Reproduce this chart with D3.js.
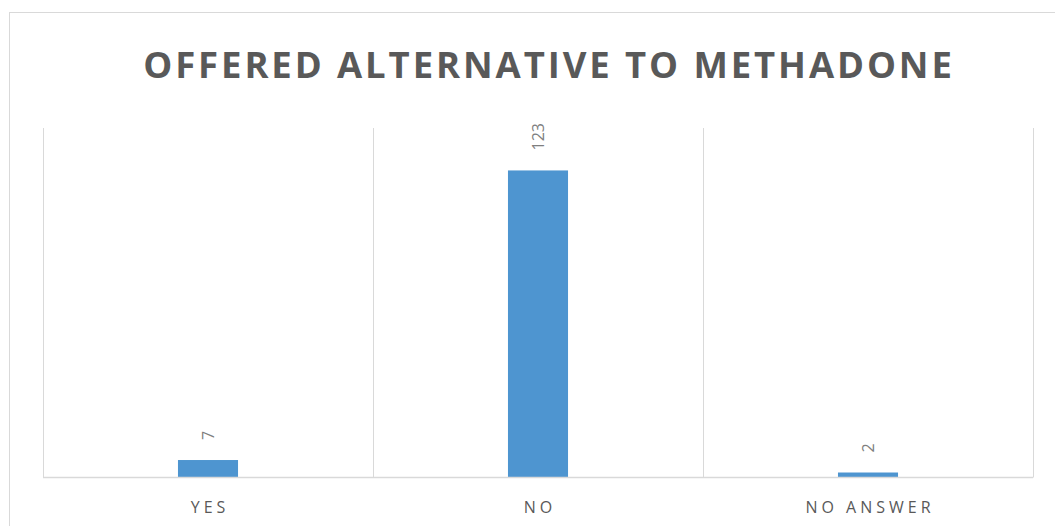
<!DOCTYPE html>
<html><head><meta charset="utf-8">
<script src="https://cdn.jsdelivr.net/npm/d3@7"></script>
<style>html,body{margin:0;padding:0;background:#fff;overflow:hidden}</style>
</head><body>
<svg id="chart" width="1055" height="526"></svg>
<script>
const categories = ["YES", "NO", "NO ANSWER"];
const values = [7, 123, 2];
const yMax = 140;
const title = "OFFERED ALTERNATIVE TO METHADONE";

(function () {
const svg = d3.select("#chart");
const pLeft = 43, pRight = 1033, pTop = 128, pBottom = 477.5;

svg.append("rect").attr("x", 9.5).attr("y", 12.5).attr("width", 1100).attr("height", 600)
  .attr("fill", "#fff").attr("stroke", "#d9d9d9").attr("stroke-width", 1);

svg.append("text").attr("x", 549).attr("y", 78).attr("text-anchor", "middle")
  .attr("font-family", "'Open Sans', sans-serif").attr("font-weight", 700)
  .attr("font-size", 36.5).attr("letter-spacing", 2.9).attr("fill", "#595959").text(title);

const x = d3.scaleBand().domain(categories).range([pLeft, pRight]).padding(0);
const y = d3.scaleLinear().domain([0, yMax]).range([pBottom, pTop]);

const bounds = categories.map(c => x(c)).concat([x(categories[categories.length-1]) + x.bandwidth()]);
svg.selectAll("line.grid").data(bounds).join("line").attr("class", "grid")
  .attr("x1", d => Math.round(d) + 0.5).attr("x2", d => Math.round(d) + 0.5)
  .attr("y1", pTop).attr("y2", pBottom).attr("stroke", "#d9d9d9").attr("stroke-width", 1);

const barW = x.bandwidth() * 0.182;
svg.selectAll("rect.bar").data(values).join("rect").attr("class", "bar")
  .attr("x", (d, i) => x(categories[i]) + x.bandwidth() / 2 - barW / 2)
  .attr("width", barW)
  .attr("y", d => y(d)).attr("height", d => y(0) - y(d))
  .attr("fill", "#4e95d0");

svg.append("line").attr("x1", pLeft).attr("x2", pRight).attr("y1", pBottom).attr("y2", pBottom)
  .attr("stroke", "#d9d9d9").attr("stroke-width", 1.5);

svg.selectAll("text.val").data(values).join("text").attr("class", "val")
  .attr("transform", (d, i) => `translate(${x(categories[i]) + x.bandwidth() / 2 + 6},${y(d) - 20}) rotate(-90)`)
  .attr("text-anchor", "start")
  .attr("font-family", "'Open Sans', sans-serif").attr("font-size", 16).attr("fill", "#7f7f7f")
  .text(d => d);

svg.selectAll("text.cat").data(categories).join("text").attr("class", "cat")
  .attr("x", d => x(d) + x.bandwidth() / 2 + 2).attr("y", 513)
  .attr("text-anchor", "middle")
  .attr("font-family", "'Open Sans', sans-serif").attr("font-size", 16).attr("letter-spacing", 4)
  .attr("fill", "#595959").text(d => d);
})();
</script>
</body></html>
